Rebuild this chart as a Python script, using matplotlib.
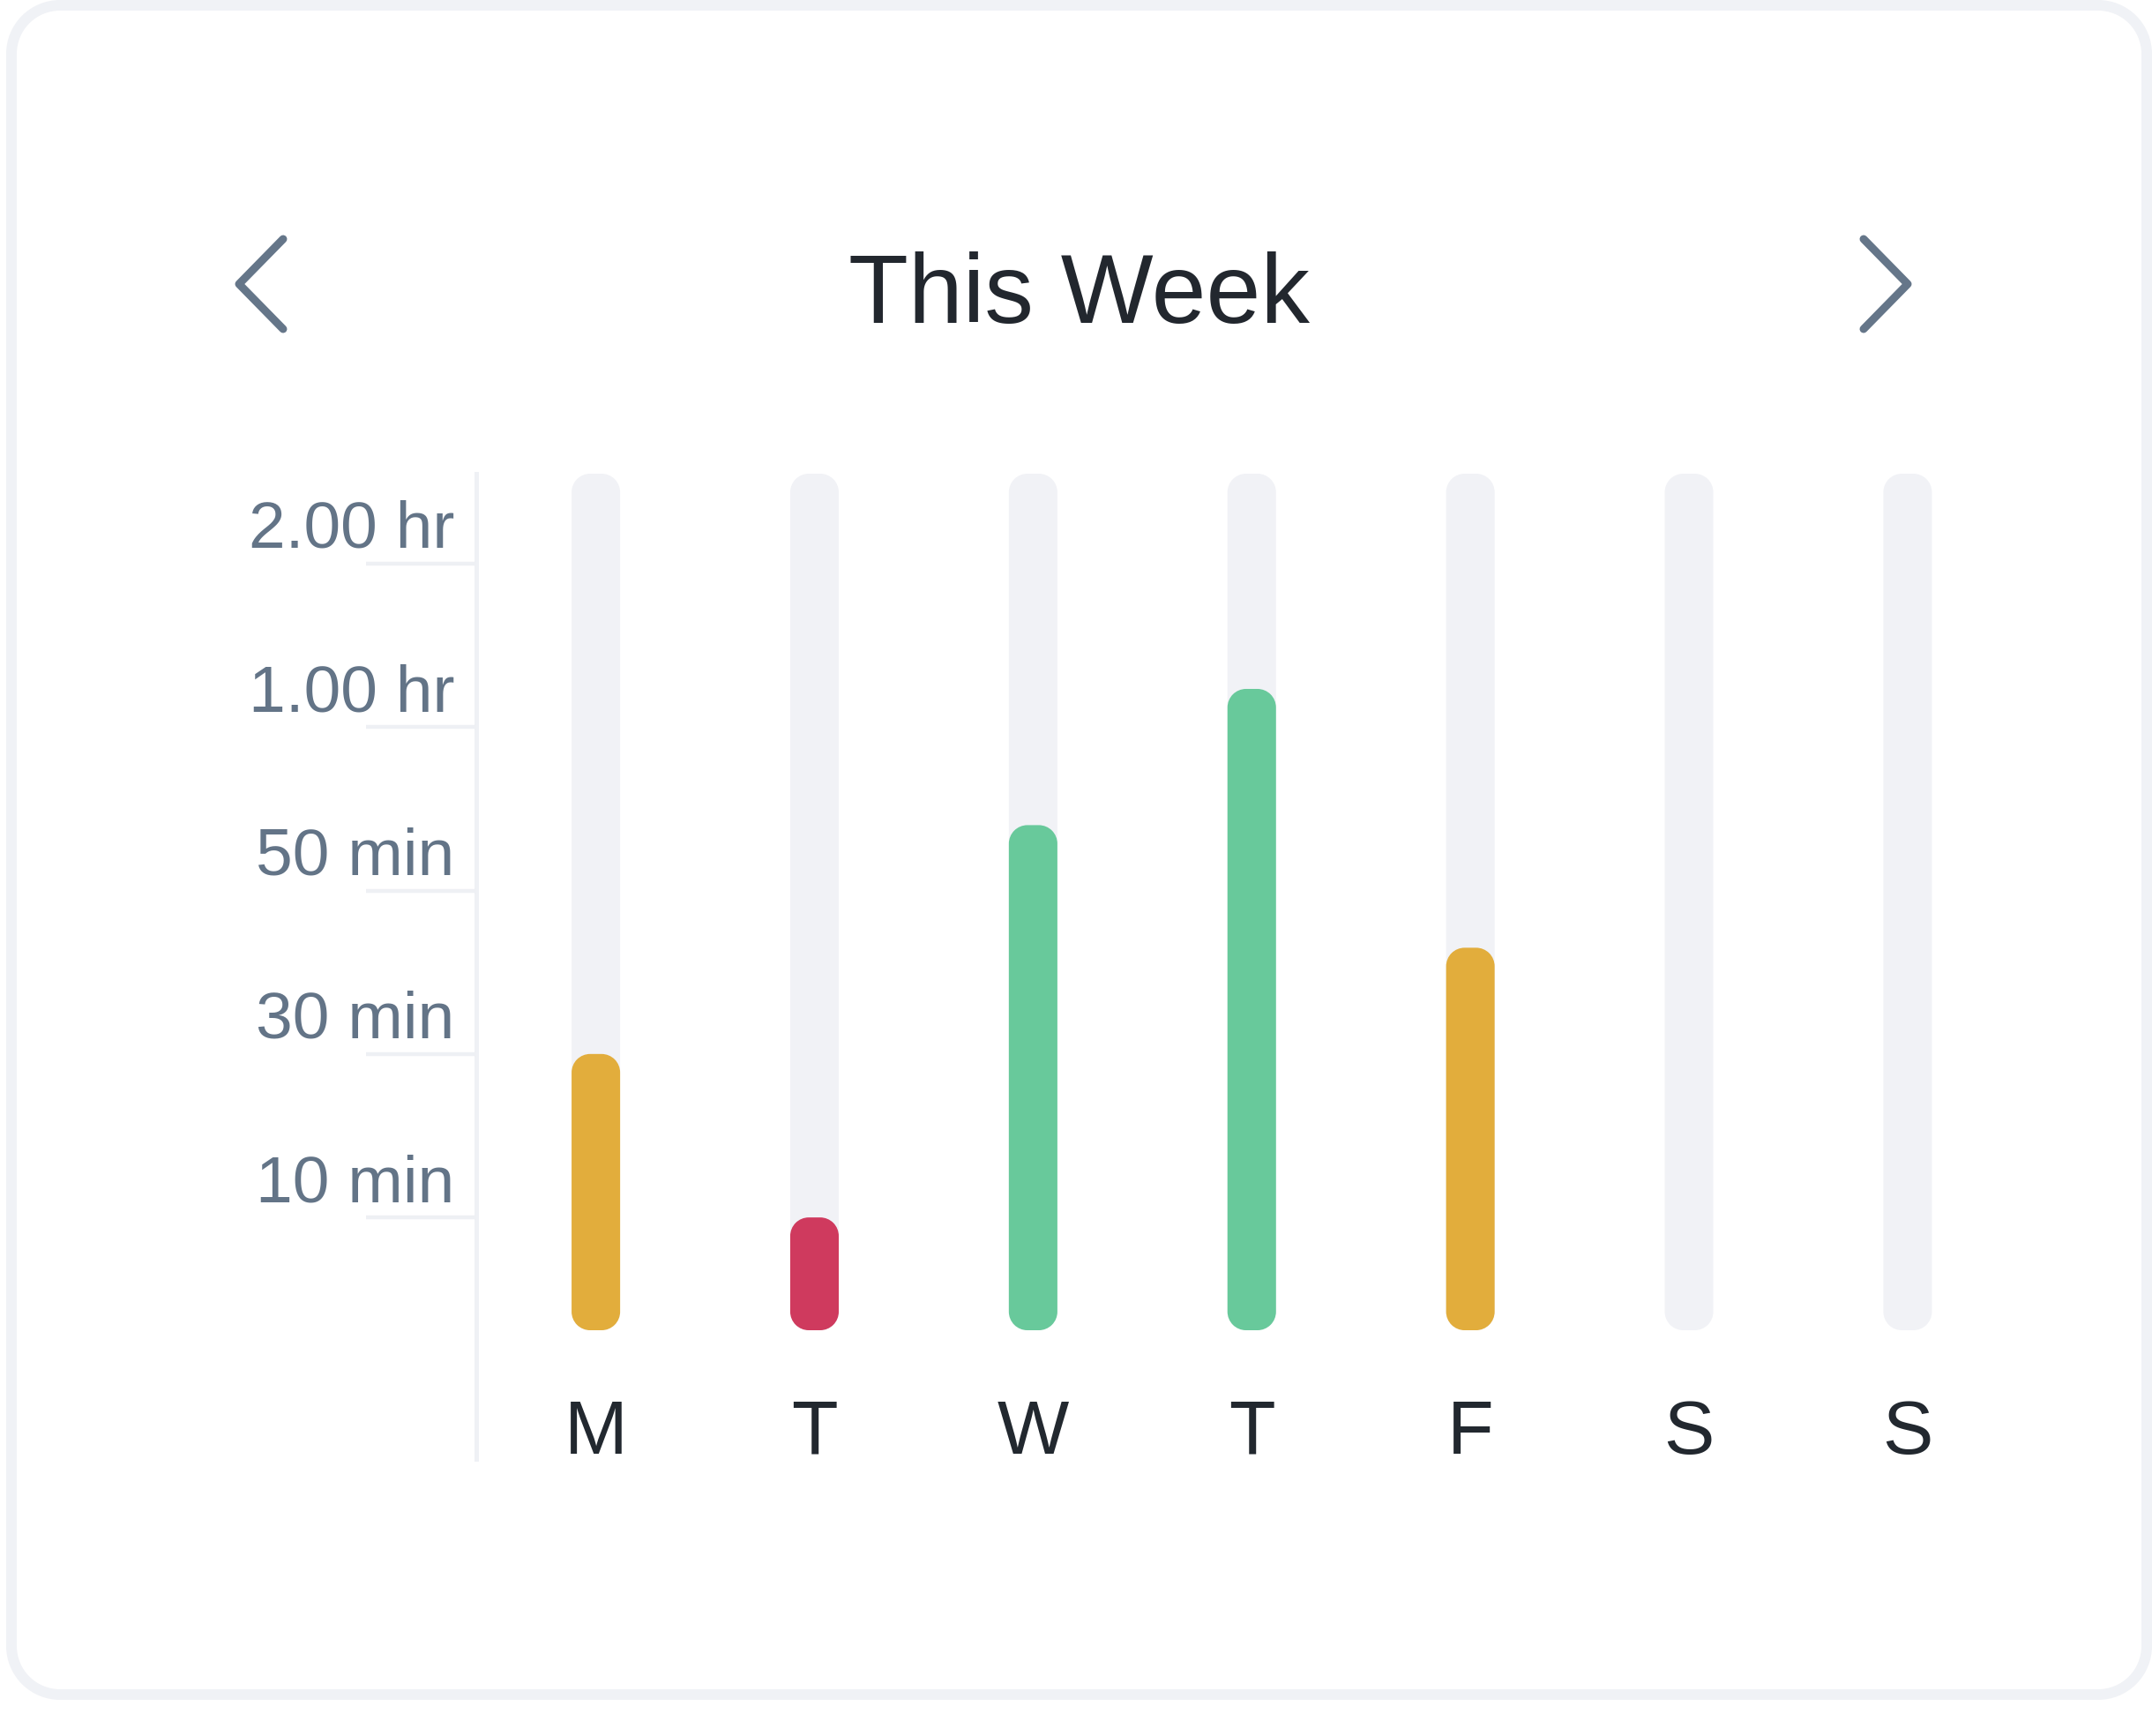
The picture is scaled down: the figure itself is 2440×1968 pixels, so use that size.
import matplotlib.pyplot as plt
import numpy as np
from matplotlib.patches import PathPatch
from matplotlib.path import Path
from matplotlib.lines import Line2D
from matplotlib.transforms import IdentityTransform

days = ['M', 'T', 'W', 'T', 'F', 'S', 'S']
minutes = [30, 10, 54, 74, 43, 0, 0]
tick_minutes = [10, 30, 50, 60, 120]
tick_labels = ['10 min', '30 min', '50 min', '1.00 hr', '2.00 hr']
track_minutes = 153
title = 'This Week'

# y axis is stretched so every labelled step gets the same height
scale_min = [0, 10, 30, 50, 60, 120, 180]
scale_pos = [0, 0.69, 1.69, 2.69, 3.69, 4.69, 5.69]


def forward(v):
    return np.interp(v, scale_min, scale_pos)


def inverse(v):
    return np.interp(v, scale_pos, scale_min)


def bar_color(m):
    if m < 15:
        return '#cf3a5e'
    if m < 50:
        return '#e2ad3c'
    return '#68c99b'


def rounded_path(x0, y0, w, h, r):
    # rectangle with true circular corners, in pixel units
    r = min(r, w / 2, h / 2)
    verts, codes = [], []
    corners = [(x0 + w - r, y0 + r, 270, 360), (x0 + w - r, y0 + h - r, 0, 90),
               (x0 + r, y0 + h - r, 90, 180), (x0 + r, y0 + r, 180, 270)]
    for cx, cy, a0, a1 in corners:
        arc = Path.arc(a0, a1)
        c = list(arc.codes)
        if verts:
            c[0] = Path.LINETO
        verts.extend(arc.vertices * r + [cx, cy])
        codes.extend(c)
    verts.append(verts[0])
    codes.append(Path.CLOSEPOLY)
    return Path(verts, codes)


W, H, DPI = 2440, 1968, 200
plt.rcParams['font.family'] = ['Liberation Sans', 'DejaVu Sans']

fig = plt.figure(figsize=(W / DPI, H / DPI), dpi=DPI)
fig.patch.set_facecolor('white')
px = IdentityTransform()

# card outline
card = PathPatch(rounded_path(13, H - 1921, 2421, 1915, 55), transform=px,
                 fc='white', ec='#f0f2f6', lw=12 * 72 / DPI, zorder=-2)
fig.add_artist(card)

ax = fig.add_axes([540 / W, (H - 1508) / H, (2300 - 540) / W, (1508 - 537) / H])
ax.set_yscale('function', functions=(forward, inverse))
ax.set_ylim(0, track_minutes)
ax.set_xlim(-0.547, 6.553)
ax.patch.set_alpha(0)
for s in ax.spines.values():
    s.set_visible(False)

x = np.arange(len(days))
tracks = ax.bar(x, [track_minutes] * len(days), width=0.222)
bars = ax.bar(x, minutes, width=0.222)


def round_bar(rect, color, z):
    # swap the plain rectangle for a rounded one at the same pixel spot
    (x0, y0), (x1, y1) = ax.transData.transform(
        [(rect.get_x(), rect.get_y()),
         (rect.get_x() + rect.get_width(), rect.get_y() + rect.get_height())])
    rect.set_visible(False)
    if y1 - y0 < 1:
        return
    fig.add_artist(PathPatch(rounded_path(x0, y0, x1 - x0, y1 - y0, 21),
                             transform=px, fc=color, ec='none', zorder=z))


for r in tracks:
    round_bar(r, '#f1f2f6', 1)
for r, m in zip(bars, minutes):
    round_bar(r, bar_color(m), 2)

ax.set_xticks(x, days)
ax.tick_params(axis='x', length=0, pad=28, labelsize=31, labelcolor='#22282f')
ax.set_yticks(tick_minutes)
ax.tick_params(axis='y', length=45, width=1.6, color='#eef0f4', labelleft=False)
ax.minorticks_off()

for m, lab in zip(tick_minutes, tick_labels):
    ax.annotate(lab, xy=(0, m), xycoords=ax.get_yaxis_transform(),
                xytext=(-9, 6.5), textcoords='offset points',
                ha='right', va='baseline', fontsize=27, color='#637487',
                annotation_clip=False)

# vertical axis line, runs past the day labels
fig.add_artist(Line2D([540, 540], [H - 537, H - 1654], transform=px,
                      color='#eff1f5', lw=5 * 72 / DPI, zorder=0))

# prev / next chevrons
arrow_kw = dict(transform=px, color='#657689', lw=9 * 72 / DPI,
                solid_capstyle='round', solid_joinstyle='round', zorder=3)
fig.add_artist(Line2D([321, 271, 321], [H - 271, H - 322, H - 373], **arrow_kw))
fig.add_artist(Line2D([2113, 2163, 2113], [H - 271, H - 322, H - 373], **arrow_kw))

fig.text(1223 / W, (H - 366) / H, title, ha='center', va='baseline',
         fontsize=40, color='#22272e')

fig.savefig('out.png', dpi=DPI, facecolor='white')
